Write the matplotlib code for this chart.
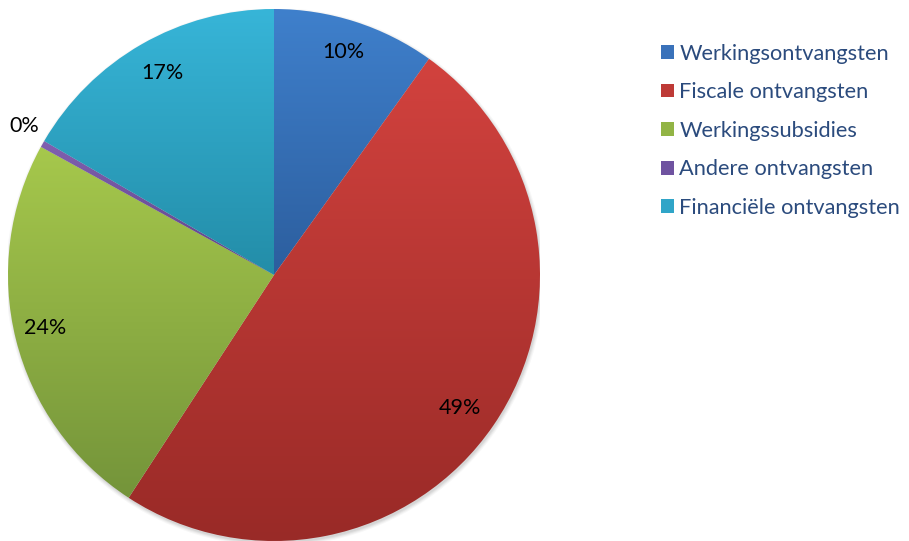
import numpy as np
import matplotlib
matplotlib.use('Agg')
import matplotlib.pyplot as plt
from matplotlib.patches import Patch, Circle
from matplotlib.colors import to_rgb

labels = ['Werkingsontvangsten', 'Fiscale ontvangsten', 'Werkingssubsidies',
          'Andere ontvangsten', 'Financiële ontvangsten']
values = [9.9, 49.3, 23.8, 0.4, 16.6]
top_colors = ['#3F80CC', '#D2423E', '#A6C84C', '#8060B0', '#37B5D8']
bottom_colors = ['#2C5E9E', '#992A27', '#74943A', '#5E4386', '#238DA8']
mid_colors = ['#3A72BA', '#BE3A36', '#92B445', '#6F53A0', '#30A5C8']

plt.rcParams['font.family'] = ['Lato', 'DejaVu Sans']

fig = plt.figure(figsize=(9.09, 5.41), dpi=100)
ax = fig.add_axes([8 / 909, 0, 532 / 909, 532 / 541])

# faint shadow under the pie
for i, a in enumerate([0.05, 0.05, 0.04, 0.03]):
    ax.add_patch(Circle((0.004, -0.008), 1.0 + 0.004 * i, color='black', alpha=a, lw=0, zorder=0))

wedges, texts, autotexts = ax.pie(values, colors=mid_colors, startangle=90, counterclock=False,
                                  autopct='%.0f%%', pctdistance=0.8,
                                  wedgeprops=dict(linewidth=0), textprops=dict(fontsize=15.5, color='black'))
for w, c1, c2 in zip(wedges, top_colors, bottom_colors):
    w.set_facecolor('none')
    x0, y0, x1, y1 = w.get_path().get_extents(w.get_patch_transform()).extents
    grad = np.linspace(0, 1, 256)[:, None, None]
    img = np.array(to_rgb(c1))[None, None, :] * (1 - grad) + np.array(to_rgb(c2))[None, None, :] * grad
    im = ax.imshow(img, extent=[x0, x1, y0, y1], origin='upper', aspect='auto', zorder=1)
    im.set_clip_path(w)

label_pos = [(0.26, 0.84), (0.70, -0.50), (-0.86, -0.20), (-0.94, 0.56), (-0.42, 0.76)]
for t, p in zip(autotexts, label_pos):
    t.set_position(p)
    t.set_zorder(5)
ax.set_xlim(-1.0, 1.0)
ax.set_ylim(-1.0, 1.0)
ax.set_aspect('equal')
ax.axis('off')

handles = [Patch(facecolor=c, edgecolor='none') for c in mid_colors]
fig.legend(handles, labels, loc='upper left', bbox_to_anchor=(652 / 909, 1 - 35 / 541),
           frameon=False, fontsize=15.7, labelcolor='#2B4B7D', handlelength=0.6, handleheight=0.6,
           handletextpad=0.25, labelspacing=0.85, borderaxespad=0)

fig.savefig('out.png', dpi=100)
